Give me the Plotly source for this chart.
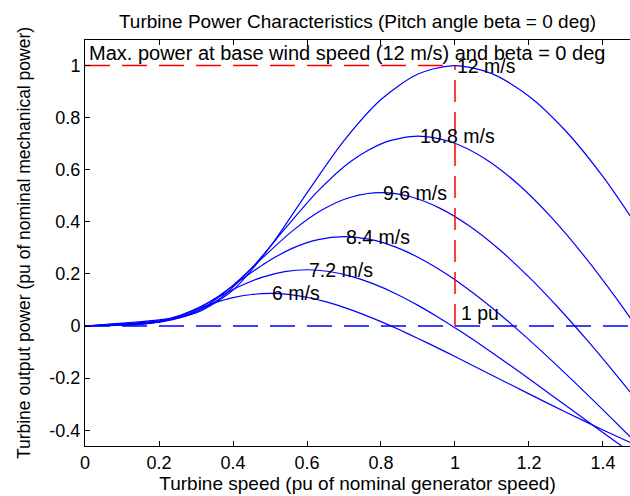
import plotly.graph_objects as go

# ---- data ----
wind_labels = ["6 m/s", "7.2 m/s", "8.4 m/s", "9.6 m/s", "10.8 m/s", "12 m/s"]

speed_6 = [0, 0.05, 0.10, 0.15, 0.20, 0.25, 0.30, 0.35, 0.40, 0.45, 0.50, 0.55, 0.60, 0.65,
           0.70, 0.75, 0.80, 0.85, 0.90, 0.95, 1.00, 1.10, 1.20, 1.30, 1.40, 1.50]
power_6 = [0, 0.0014, 0.0029, 0.0062, 0.0173, 0.0380, 0.0639, 0.0889, 0.1087, 0.1209, 0.125,
           0.1211, 0.1103, 0.0935, 0.0716, 0.0458, 0.0169, -0.0145, -0.0477, -0.0820, -0.1173,
           -0.1890, -0.2607, -0.3310, -0.3991, -0.4646]

speed_72 = [0, 0.06, 0.12, 0.18, 0.24, 0.30, 0.36, 0.42, 0.48, 0.54, 0.60, 0.66, 0.72, 0.78,
            0.84, 0.90, 0.96, 1.02, 1.08, 1.14, 1.20, 1.32, 1.44, 1.56]
power_72 = [0, 0.0025, 0.0050, 0.0108, 0.0298, 0.0656, 0.1104, 0.1537, 0.1878, 0.2089, 0.216,
            0.2093, 0.1906, 0.1615, 0.1238, 0.0792, 0.0292, -0.0251, -0.0824, -0.1417, -0.2027,
            -0.3265, -0.4504, -0.5719]

speed_84 = [0, 0.07, 0.14, 0.21, 0.28, 0.35, 0.42, 0.49, 0.56, 0.63, 0.70, 0.77, 0.84, 0.91,
            0.98, 1.05, 1.12, 1.19, 1.26, 1.33, 1.40, 1.54]
power_84 = [0, 0.0039, 0.0080, 0.0171, 0.0473, 0.1042, 0.1753, 0.2440, 0.2982, 0.3317, 0.343,
            0.3324, 0.3026, 0.2564, 0.1966, 0.1257, 0.0463, -0.0398, -0.1308, -0.2251, -0.3219,
            -0.5185]

speed_96 = [0, 0.08, 0.16, 0.24, 0.32, 0.40, 0.48, 0.56, 0.64, 0.72, 0.80, 0.88, 0.96, 1.04,
            1.12, 1.20, 1.28, 1.36, 1.44, 1.52]
power_96 = [0, 0.0059, 0.0119, 0.0255, 0.0707, 0.1556, 0.2617, 0.3642, 0.4451, 0.4952, 0.512,
            0.4962, 0.4517, 0.3828, 0.2934, 0.1876, 0.0691, -0.0594, -0.1952, -0.3360]

speed_108 = [0, 0.09, 0.18, 0.27, 0.36, 0.45, 0.54, 0.63, 0.72, 0.81, 0.90, 0.99, 1.08, 1.17,
             1.26, 1.35, 1.44, 1.53]
power_108 = [0, 0.0084, 0.0170, 0.0363, 0.1006, 0.2215, 0.3726, 0.5186, 0.6337, 0.7051, 0.729,
             0.7065, 0.6432, 0.5450, 0.4178, 0.2672, 0.0984, -0.0846]

speed_12 = [0, 0.1, 0.2, 0.3, 0.4, 0.5, 0.6, 0.7, 0.8, 0.9, 1.0, 1.1, 1.2, 1.3, 1.4, 1.5]
power_12 = [0, 0.0115, 0.0233, 0.0498, 0.138, 0.3039, 0.5111, 0.7114, 0.8693, 0.9672, 1.0,
            0.9691, 0.8823, 0.7476, 0.5731, 0.3665]

base_speed = 1.0      # pu
base_power = 1.0      # pu
speed_max = 1.473

x_ticks = [0, 0.2, 0.4, 0.6, 0.8, 1, 1.2, 1.4]
x_tick_text = ["0", "0.2", "0.4", "0.6", "0.8", "1", "1.2", "1.4"]
y_ticks = [-0.4, -0.2, 0, 0.2, 0.4, 0.6, 0.8, 1]
y_tick_text = ["-0.4", "-0.2", "0", "0.2", "0.4", "0.6", "0.8", "1"]

series = [(speed_6, power_6), (speed_72, power_72), (speed_84, power_84),
          (speed_96, power_96), (speed_108, power_108), (speed_12, power_12)]

FONT = "Liberation Sans, Arial, Helvetica, sans-serif"
BLUE = "#0000FF"
RED = "#FF0000"

fig = go.Figure()

for name, (xs, ys) in zip(wind_labels, series):
    fig.add_trace(go.Scatter(x=xs, y=ys, mode="lines", name=name,
                             line=dict(color=BLUE, width=1.2, shape="spline", smoothing=0.8),
                             showlegend=False, hoverinfo="skip"))

# zero-power reference (blue dashed)
fig.add_trace(go.Scatter(x=[0, speed_max], y=[0, 0], mode="lines",
                         line=dict(color=BLUE, width=1.3, dash="25px,12px"),
                         showlegend=False, hoverinfo="skip"))
# max power at base wind speed (red dashed)
fig.add_trace(go.Scatter(x=[0, base_speed], y=[base_power, base_power], mode="lines",
                         line=dict(color=RED, width=1.5, dash="25px,12px"),
                         showlegend=False, hoverinfo="skip"))
fig.add_trace(go.Scatter(x=[base_speed, base_speed], y=[0, base_power], mode="lines",
                         line=dict(color=RED, width=1.5, dash="22px,10px"),
                         showlegend=False, hoverinfo="skip"))

annotations = []
for name, (xs, ys) in zip(wind_labels, series):
    i = max(range(len(ys)), key=lambda k: ys[k])
    annotations.append(dict(x=xs[i], y=ys[i], xref="x", yref="y", text=name,
                            showarrow=False, xanchor="left", yanchor="middle",
                            font=dict(family=FONT, size=19.5, color="black")))
annotations.append(dict(x=0.005, y=1.05, xref="x", yref="y",
                        text="Max. power at base wind speed (12 m/s) and beta = 0 deg",
                        showarrow=False, xanchor="left", yanchor="middle",
                        font=dict(family=FONT, size=20, color="black")))
annotations.append(dict(x=1.01, y=0.05, xref="x", yref="y", text="1 pu",
                        showarrow=False, xanchor="left", yanchor="middle",
                        font=dict(family=FONT, size=19.5, color="black")))

fig.update_layout(
    width=630, height=496,
    margin=dict(l=85, r=0, t=40, b=50),
    paper_bgcolor="white", plot_bgcolor="white",
    font=dict(family=FONT, size=18, color="black"),
    title=dict(text="Turbine Power Characteristics (Pitch angle beta = 0 deg)",
               x=0.5675, xanchor="center", xref="container",
               y=1 - 21 / 496, yanchor="middle", yref="container",
               font=dict(family=FONT, size=19, color="black")),
    annotations=annotations,
)

fig.update_xaxes(range=[0, speed_max], tickvals=x_ticks, ticktext=x_tick_text,
                 ticks="inside", ticklen=5, tickcolor="black", showline=True,
                 linecolor="black", linewidth=1, mirror="ticks", showgrid=False,
                 zeroline=False, tickfont=dict(family=FONT, size=18, color="black"),
                 title=dict(text="Turbine speed (pu of nominal generator speed)",
                            standoff=2, font=dict(family=FONT, size=19, color="black")))
fig.update_yaxes(range=[-0.4607, 1.098], tickvals=y_ticks, ticktext=y_tick_text,
                 ticks="inside", ticklen=5, tickcolor="black", showline=True,
                 linecolor="black", linewidth=1, mirror=False, showgrid=False,
                 zeroline=False, tickfont=dict(family=FONT, size=18, color="black"),
                 title=dict(text="Turbine output power (pu of nominal mechanical power)",
                            standoff=14, font=dict(family=FONT, size=17.5, color="black")))

fig.write_html("out.html")
